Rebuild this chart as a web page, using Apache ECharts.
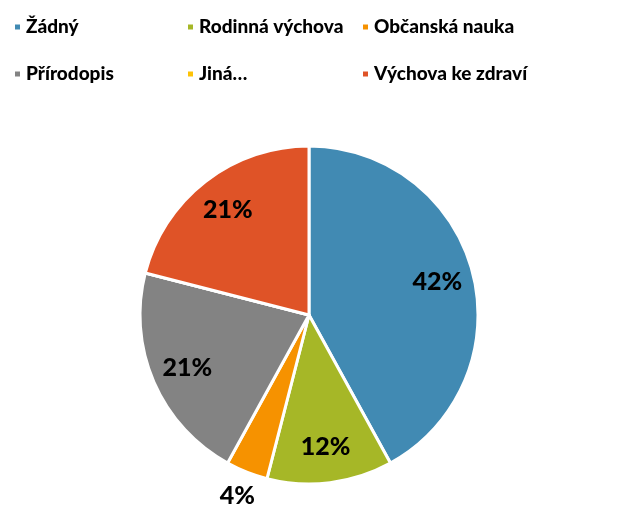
<!DOCTYPE html>
<html>
<head>
<meta charset="utf-8">
<script src="https://cdn.jsdelivr.net/npm/echarts@6/dist/echarts.min.js"></script>
<style>
  html, body { margin: 0; padding: 0; background: #fff; }
  #chart { width: 621px; height: 505px; }
</style>
</head>
<body>
<div id="chart"></div>
<script>
// data
const categories = ['Žádný', 'Rodinná výchova', 'Občanská nauka', 'Přírodopis', 'Jiná…', 'Výchova ke zdraví']
const values = [42, 12, 4, 21, 0, 21]
const colors = ['#418AB3', '#A6B727', '#F69200', '#838383', '#FEC306', '#DF5327']

const FONT = 'Lato, "Open Sans", sans-serif'
const center = [309, 315]

const chart = echarts.init(document.getElementById('chart'), null, { renderer: 'canvas' })

const pct = (p) => Math.round(p.percent) + '%'

// small slices get their label outside the pie
const isSmall = (v) => v > 0 && v < 5

const legendCol = (names, left) => ({
  orient: 'vertical',
  left: left,
  top: 12,
  itemGap: 27,
  icon: 'rect',
  itemWidth: 7,
  itemHeight: 7,
  selectedMode: false,
  data: names,
  textStyle: {
    fontFamily: FONT,
    fontWeight: 900,
    fontSize: 19,
    lineHeight: 20,
    color: '#000'
  }
})

const baseData = categories.map((name, i) => ({
  name,
  value: values[i],
  itemStyle: { color: colors[i] }
}))

const labelStyle = {
  fontFamily: FONT,
  fontWeight: 900,
  fontSize: 25,
  color: '#000'
}

const option = {
  backgroundColor: '#fff',
  animation: false,
  legend: [
    legendCol([categories[0], categories[3]], 8),
    legendCol([categories[1], categories[4]], 181),
    legendCol([categories[2], categories[5]], 356)
  ],
  series: [
    {
      type: 'pie',
      center: center,
      radius: [0, 169],
      startAngle: 90,
      clockwise: true,
      silent: true,
      label: { show: false },
      labelLine: { show: false },
      emphasis: { disabled: true },
      itemStyle: { borderColor: '#fff', borderWidth: 3 },
      data: baseData
    },
    {
      // inner labels
      type: 'pie',
      center: center,
      radius: [90, 169],
      startAngle: 90,
      clockwise: true,
      silent: true,
      emphasis: { disabled: true },
      itemStyle: { color: 'rgba(0,0,0,0)', borderWidth: 0 },
      labelLine: { show: false },
      label: Object.assign({
        position: 'inside',
        formatter: (p) => (p.value >= 5 ? pct(p) : '')
      }, labelStyle),
      data: categories.map((name, i) => ({ name, value: values[i] }))
    },
    {
      // outer labels for tiny slices
      type: 'pie',
      center: center,
      radius: [170, 214],
      startAngle: 90,
      clockwise: true,
      silent: true,
      emphasis: { disabled: true },
      itemStyle: { color: 'rgba(0,0,0,0)', borderWidth: 0 },
      labelLine: { show: false },
      label: Object.assign({
        position: 'inside',
        formatter: (p) => (isSmall(p.value) ? pct(p) : '')
      }, labelStyle),
      data: categories.map((name, i) => ({ name, value: values[i] }))
    }
  ]
}

chart.setOption(option)
</script>
</body>
</html>
